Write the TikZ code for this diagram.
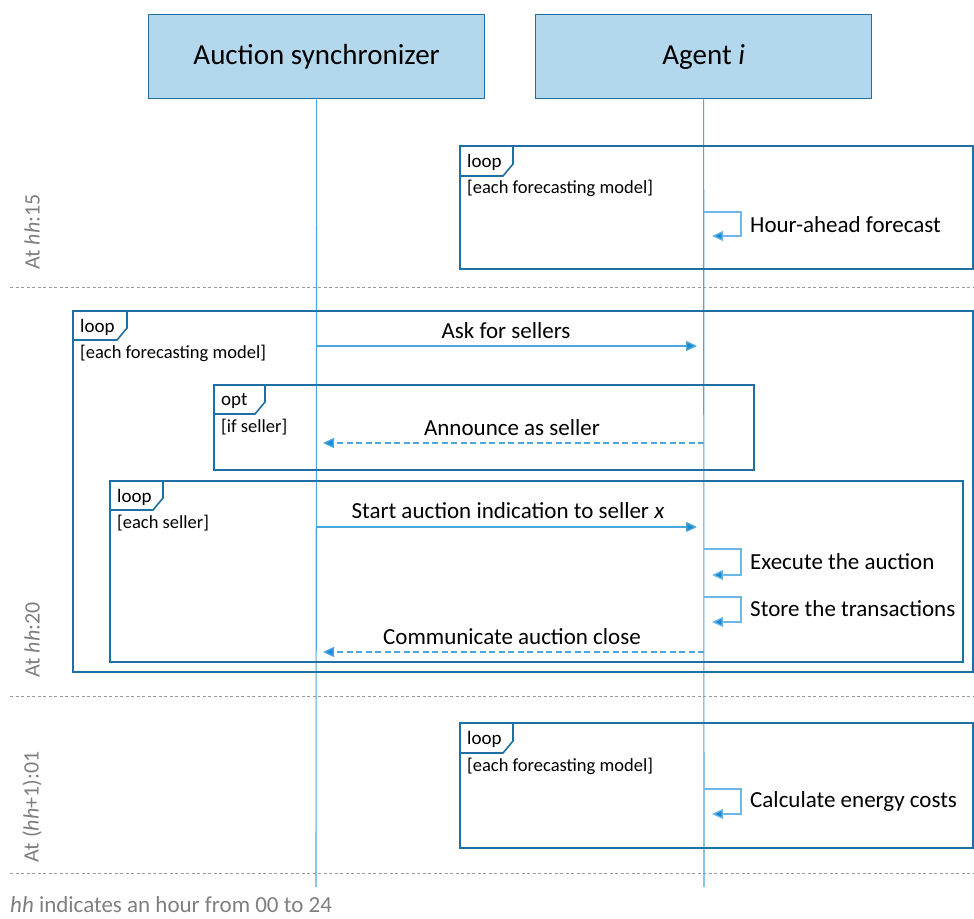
\documentclass[tikz,border=0pt]{standalone}
\usepackage{fontspec}
\setmainfont{Carlito}
\usetikzlibrary{arrows.meta}
\definecolor{frameblue}{HTML}{1F6FA3}
\definecolor{lifeblue}{HTML}{4AA6DF}
\definecolor{selfblue}{HTML}{6DB8E8}
\definecolor{headfill}{HTML}{B3D8EE}
\definecolor{tipblue}{HTML}{1B8AD3}
\definecolor{sepgrey}{HTML}{9A9A9A}
\definecolor{txtgrey}{HTML}{7F7F7F}
\begin{document}
\begin{tikzpicture}[x=1pt,y=-1pt,
  header/.style={draw=frameblue, line width=1.3pt, fill=headfill, minimum width=336pt, minimum height=84pt, inner sep=0pt, anchor=north west, font=\fontsize{29}{34}\selectfont},
  life/.style={draw=lifeblue, line width=1.1pt},
  sep/.style={draw=sepgrey, line width=0.9pt, dash pattern=on 3pt off 2.5pt},
  frame/.style={draw=frameblue, line width=1.6pt},
  tabtext/.style={anchor=west, inner sep=0pt, font=\fontsize{19}{22}\selectfont},
  guard/.style={anchor=west, inner sep=0pt, font=\fontsize{18.5}{22}\selectfont},
  msg/.style={draw=lifeblue, line width=1.3pt, -{Triangle[length=11pt,width=10pt,fill=tipblue]}},
  reply/.style={msg, dash pattern=on 6pt off 3.5pt},
  selfmsg/.style={draw=selfblue, line width=1.3pt, -{Triangle[length=11pt,width=10pt,fill=tipblue]}},
  msglabel/.style={inner sep=0pt, font=\fontsize{23}{27}\selectfont},
  selflabel/.style={anchor=west, inner sep=0pt, font=\fontsize{23}{27}\selectfont},
  timelabel/.style={rotate=90, text=txtgrey, inner sep=0pt, font=\fontsize{22}{26}\selectfont},
]
\useasboundingbox (0,0) rectangle (974,918);

% headers
\node[header] (sync) at (148,14) {Auction synchronizer};
\node[header] (agent) at (535,14) {Agent \textit{i}};

% separators
\coordinate (sepA1) at (10,287); \coordinate (sepA2) at (974,287);
\coordinate (sepB1) at (10,696); \coordinate (sepB2) at (974,696);
\coordinate (sepC1) at (10,873); \coordinate (sepC2) at (974,873);
\draw[sep] (sepA1) -- (sepA2);
\draw[sep] (sepB1) -- (sepB2);
\draw[sep] (sepC1) -- (sepC2);

% lifelines
\coordinate (syncend) at (316,887);
\coordinate (agentend) at (704,887);
\draw[life] (sync.south) -- (syncend);
\draw[life] (agent.south) -- (agentend);

% frame 1 (hh:15)
\draw[frame] (460,146) rectangle (973,269);
\draw[frame] (513,146) -- (513,164) -- (503,176) -- (460,176);
\node[tabtext] (f1tab) at (467,162) {loop};
\node[guard] (f1guard) at (467,188) {[each forecasting model]};
\coordinate (h1a) at (704,212); \coordinate (h1b) at (712,236);
\draw[selfmsg] (h1a) -- (741,212) |- (h1b);
\node[selflabel] (h1) at (750,225) {Hour-ahead forecast};

% big loop (hh:20)
\draw[frame] (73,311) rectangle (973,672);
\draw[frame] (127,311) -- (127,328) -- (117,340) -- (73,340);
\node[tabtext] (f2tab) at (80,327) {loop};
\node[guard] (f2guard) at (80,353) {[each forecasting model]};
\coordinate (ask1) at (316,346); \coordinate (ask2) at (697,346);
\draw[msg] (ask1) -- (ask2);
\node[msglabel] (asklabel) at (506,331) {Ask for sellers};

% opt
\draw[frame] (214,385) rectangle (754,470);
\draw[frame] (265,385) -- (265,402) -- (255,414) -- (214,414);
\node[tabtext] (f3tab) at (221,401) {opt};
\node[guard] (f3guard) at (221,427) {[if seller]};
\coordinate (ann1) at (704,443); \coordinate (ann2) at (323,443);
\draw[reply] (ann1) -- (ann2);
\node[msglabel] (annlabel) at (512,428) {Announce as seller};

% inner loop
\draw[frame] (110,481) rectangle (963,662);
\draw[frame] (163,481) -- (163,498) -- (153,510) -- (110,510);
\node[tabtext] (f4tab) at (117,497) {loop};
\node[guard] (f4guard) at (117,523) {[each seller]};
\coordinate (st1) at (316,527); \coordinate (st2) at (697,527);
\draw[msg] (st1) -- (st2);
\node[msglabel] (stlabel) at (508,511) {Start auction indication to seller \textit{x}};
\coordinate (ex1) at (704,549); \coordinate (ex2) at (712,575);
\draw[selfmsg] (ex1) -- (741,549) |- (ex2);
\node[selflabel] (exlabel) at (750,562) {Execute the auction};
\coordinate (so1) at (704,597); \coordinate (so2) at (712,622);
\draw[selfmsg] (so1) -- (741,597) |- (so2);
\node[selflabel] (solabel) at (750,609) {Store the transactions};
\coordinate (cl1) at (704,652); \coordinate (cl2) at (323,652);
\draw[reply] (cl1) -- (cl2);
\node[msglabel] (cllabel) at (512,637) {Communicate auction close};

% frame (hh+1):01
\draw[frame] (460,723) rectangle (973,848);
\draw[frame] (513,723) -- (513,741) -- (503,753) -- (460,753);
\node[tabtext] (f5tab) at (467,739) {loop};
\node[guard] (f5guard) at (467,766) {[each forecasting model]};
\coordinate (ce1) at (704,789); \coordinate (ce2) at (712,814);
\draw[selfmsg] (ce1) -- (741,789) |- (ce2);
\node[selflabel] (celabel) at (750,801) {Calculate energy costs};

% time labels
\node[timelabel] (t1) at (32,232) {At \textit{hh}:15};
\node[timelabel] (t2) at (32,640) {At \textit{hh}:20};
\node[timelabel] (t3) at (32,807) {At (\textit{hh}+1):01};

% footer
\node[anchor=west, inner sep=0pt, text=txtgrey, font=\fontsize{23}{27}\selectfont] (foot) at (10,905) {\textit{hh} indicates an hour from 00 to 24};
\end{tikzpicture}
\end{document}
